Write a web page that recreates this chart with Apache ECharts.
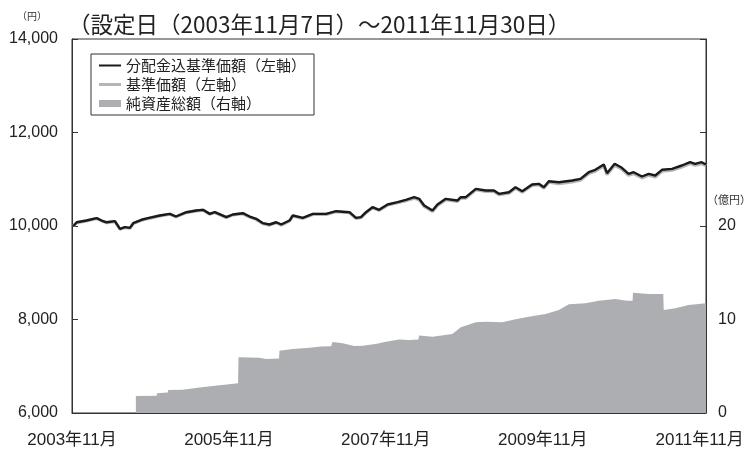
<!DOCTYPE html>
<html><head><meta charset="utf-8">
<script src="https://cdn.jsdelivr.net/npm/echarts@6/dist/echarts.min.js"></script>
<style>html,body{margin:0;padding:0;background:#fff}#c{width:751px;height:449px}</style>
</head><body><div id="c"></div>
<script>
// 分配金込基準価額 (左軸, 円)
const navDates = ["2003-11-07","2003-11-23","2004-01-08","2004-02-24","2004-03-17","2004-04-10","2004-05-18","2004-06-11","2004-07-04","2004-07-27","2004-08-12","2004-09-20","2004-10-20","2004-12-14","2005-01-30","2005-02-28","2005-04-16","2005-06-02","2005-07-02","2005-08-03","2005-08-26","2005-10-19","2005-11-19","2006-01-05","2006-02-06","2006-03-06","2006-04-07","2006-05-07","2006-06-08","2006-07-01","2006-08-09","2006-08-24","2006-10-10","2006-11-26","2007-01-27","2007-03-13","2007-05-14","2007-06-14","2007-07-07","2007-07-30","2007-08-30","2007-09-30","2007-11-09","2007-12-25","2008-01-02","2008-02-03","2008-03-11","2008-04-04","2008-04-27","2008-06-05","2008-06-28","2008-08-06","2008-09-29","2008-10-15","2008-11-08","2008-12-24","2009-02-09","2009-03-17","2009-04-10","2009-05-26","2009-06-26","2009-07-27","2009-09-12","2009-10-13","2009-11-06","2009-11-29","2010-01-15","2010-03-16","2010-04-24","2010-06-02","2010-07-02","2010-08-11","2010-08-26","2010-10-01","2010-11-04","2010-12-05","2010-12-28","2011-02-06","2011-03-07","2011-04-07","2011-05-08","2011-06-24","2011-08-09","2011-09-17","2011-10-10","2011-11-10","2011-11-30"];
const navWithDiv = [10000,10080,10117,10167,10117,10080,10103,9940,9975,9960,10060,10133,10167,10225,10260,10203,10295,10331,10346,10260,10295,10188,10246,10274,10203,10154,10060,10032,10080,10032,10117,10225,10175,10260,10260,10317,10295,10175,10189,10295,10402,10346,10460,10509,10531,10560,10616,10581,10438,10331,10460,10581,10545,10616,10616,10795,10759,10759,10688,10723,10830,10745,10888,10902,10830,10958,10937,10973,11009,11151,11202,11315,11130,11330,11245,11116,11151,11059,11116,11080,11202,11223,11294,11365,11330,11365,11315];
// 基準価額 (左軸, 円)
const navBase = [10000,10072,10109,10159,10109,10072,10095,9932,9967,9952,10052,10125,10159,10217,10252,10195,10287,10323,10338,10252,10287,10180,10238,10262,10191,10142,10048,10020,10068,10020,10105,10213,10163,10248,10248,10305,10283,10163,10177,10283,10390,10334,10448,10497,10511,10540,10596,10561,10418,10311,10440,10561,10525,10596,10596,10775,10739,10739,10668,10703,10810,10725,10868,10882,10810,10938,10907,10943,10979,11121,11172,11285,11100,11300,11215,11086,11121,11029,11086,11050,11172,11193,11264,11335,11300,11335,11285];
// 純資産総額 (右軸, 億円)
const assetDates = ["2004-08-24","2004-11-30","2004-12-01","2005-01-20","2005-01-22","2005-03-30","2005-04-01","2005-06-15","2005-06-17","2005-09-09","2005-09-11","2005-12-13","2005-12-15","2006-03-21","2006-04-22","2006-06-21","2006-06-23","2006-08-24","2006-11-10","2007-01-04","2007-02-20","2007-02-26","2007-04-13","2007-06-06","2007-07-15","2007-09-20","2007-11-01","2008-01-02","2008-02-18","2008-03-30","2008-04-04","2008-06-05","2008-09-06","2008-10-15","2008-12-24","2009-02-09","2009-04-25","2009-06-26","2009-08-27","2009-11-14","2010-01-15","2010-03-01","2010-05-17","2010-07-18","2010-10-04","2010-11-27","2010-12-23","2010-12-25","2011-03-07","2011-05-14","2011-05-16","2011-07-09","2011-09-10","2011-11-30"];
const assetValues = [1.82,1.85,2.12,2.2,2.45,2.5,2.65,2.72,2.9,2.95,3.1,3.18,5.96,5.92,5.77,5.82,6.67,6.84,6.99,7.1,7.15,7.59,7.45,7.17,7.2,7.4,7.63,7.85,7.8,7.85,8.3,8.16,8.45,9.16,9.7,9.77,9.7,10.02,10.3,10.59,11.02,11.62,11.73,12.01,12.19,12.01,12.01,12.87,12.73,12.73,11.02,11.2,11.55,11.73];
// 軸
const axisStart = "2003-11-01";
const axisEnd = "2011-11-30";
const leftTicks = [6000, 14000, 2000];
const rightTicks = [0, 40, 10];
const rightShown = [0, 10, 20];
const names = ["分配金込基準価額（左軸）", "基準価額（左軸）", "純資産総額（右軸）"];
const titleText = "（設定日（2003年11月7日）～2011年11月30日）";

function toM(s) {
  const p = s.split('-').map(Number);
  return (p[0] - 2003) * 12 + (p[1] - 11) + (p[2] - 1) / 30;
}
const m0 = toM(axisStart), m1 = toM(axisEnd);
const FF = "'Liberation Sans','Noto Sans CJK JP',sans-serif";
const chart = echarts.init(document.getElementById('c'), null, {renderer: 'canvas'});
chart.setOption({
  animation: false,
  backgroundColor: '#fff',
  title: {text: titleText, left: 63, top: 8, textStyle: {fontSize: 22.5, fontWeight: 'normal', color: '#222', fontFamily: "'Noto Sans CJK JP',sans-serif"}},
  graphic: [
    {type: 'text', left: 17, top: 11, style: {text: '（円）', fontSize: 10, fill: '#333', fontFamily: "'Noto Sans CJK JP',sans-serif"}},
    {type: 'text', left: 707, top: 194, style: {text: '（億円）', fontSize: 11, fill: '#333', fontFamily: "'Noto Sans CJK JP',sans-serif"}}
  ],
  grid: {left: 72, right: 45, top: 39, bottom: 36, show: true, borderColor: '#333', borderWidth: 1, backgroundColor: 'transparent'},
  legend: {
    orient: 'vertical', left: 91, top: 54, padding: [4, 8, 4, 8], itemGap: 4, itemWidth: 22, itemHeight: 14,
    borderColor: '#333', borderWidth: 1, selectedMode: false,
    textStyle: {fontSize: 15, color: '#222', fontFamily: "'Noto Sans CJK JP',sans-serif", lineHeight: 15},
    data: [
      {name: names[0], icon: 'path://M0,0H22V2H0Z'},
      {name: names[1], icon: 'path://M0,0H22V3H0Z'},
      {name: names[2], icon: 'path://M0,0H22V7H0Z'}
    ]
  },
  xAxis: {
    type: 'value', min: m0, max: m1, interval: 24,
    axisLine: {lineStyle: {color: '#333', width: 1}},
    axisTick: {inside: true, length: 6, lineStyle: {color: '#333'}},
    splitLine: {show: false},
    axisLabel: {
      margin: 19, fontSize: 17, color: '#222', fontFamily: FF, showMaxLabel: true,
      formatter: v => (Math.abs(v % 24) < 1e-6 ? (2003 + v / 12) + '年11月' : '')
    }
  },
  yAxis: [
    {
      type: 'value', min: leftTicks[0], max: leftTicks[1], interval: leftTicks[2],
      axisLine: {show: true, lineStyle: {color: '#333'}},
      axisTick: {show: true, inside: true, length: 6, lineStyle: {color: '#333'}},
      splitLine: {show: false},
      axisLabel: {margin: 14, fontSize: 16, color: '#222', fontFamily: FF}
    },
    {
      type: 'value', min: rightTicks[0], max: rightTicks[1], interval: rightTicks[2], position: 'right',
      axisLine: {show: true, lineStyle: {color: '#333'}},
      axisTick: {show: true, inside: true, length: 6, lineStyle: {color: '#333'}},
      splitLine: {show: false},
      axisLabel: {margin: 12, fontSize: 16, color: '#222', fontFamily: FF,
        formatter: v => (rightShown.indexOf(v) >= 0 ? String(v) : '')}
    }
  ],
  series: [
    {
      name: names[2], type: 'line', yAxisIndex: 1, symbol: 'none', z: 1,
      data: assetDates.map((d, i) => [toM(d), assetValues[i]]),
      lineStyle: {width: 0, color: '#adaeb2'}, itemStyle: {color: '#adaeb2'},
      areaStyle: {color: '#adaeb2', opacity: 1}
    },
    {
      name: names[1], type: 'line', yAxisIndex: 0, symbol: 'none', z: 2,
      data: navDates.map((d, i) => [toM(d), navBase[i]]),
      lineStyle: {width: 3.2, color: '#b5b5b5'}, itemStyle: {color: '#b5b5b5'}
    },
    {
      name: names[0], type: 'line', yAxisIndex: 0, symbol: 'none', z: 3,
      data: navDates.map((d, i) => [toM(d), navWithDiv[i]]),
      lineStyle: {width: 2.4, color: '#1a1a1a'}, itemStyle: {color: '#1a1a1a'}
    }
  ]
});
</script></body></html>
